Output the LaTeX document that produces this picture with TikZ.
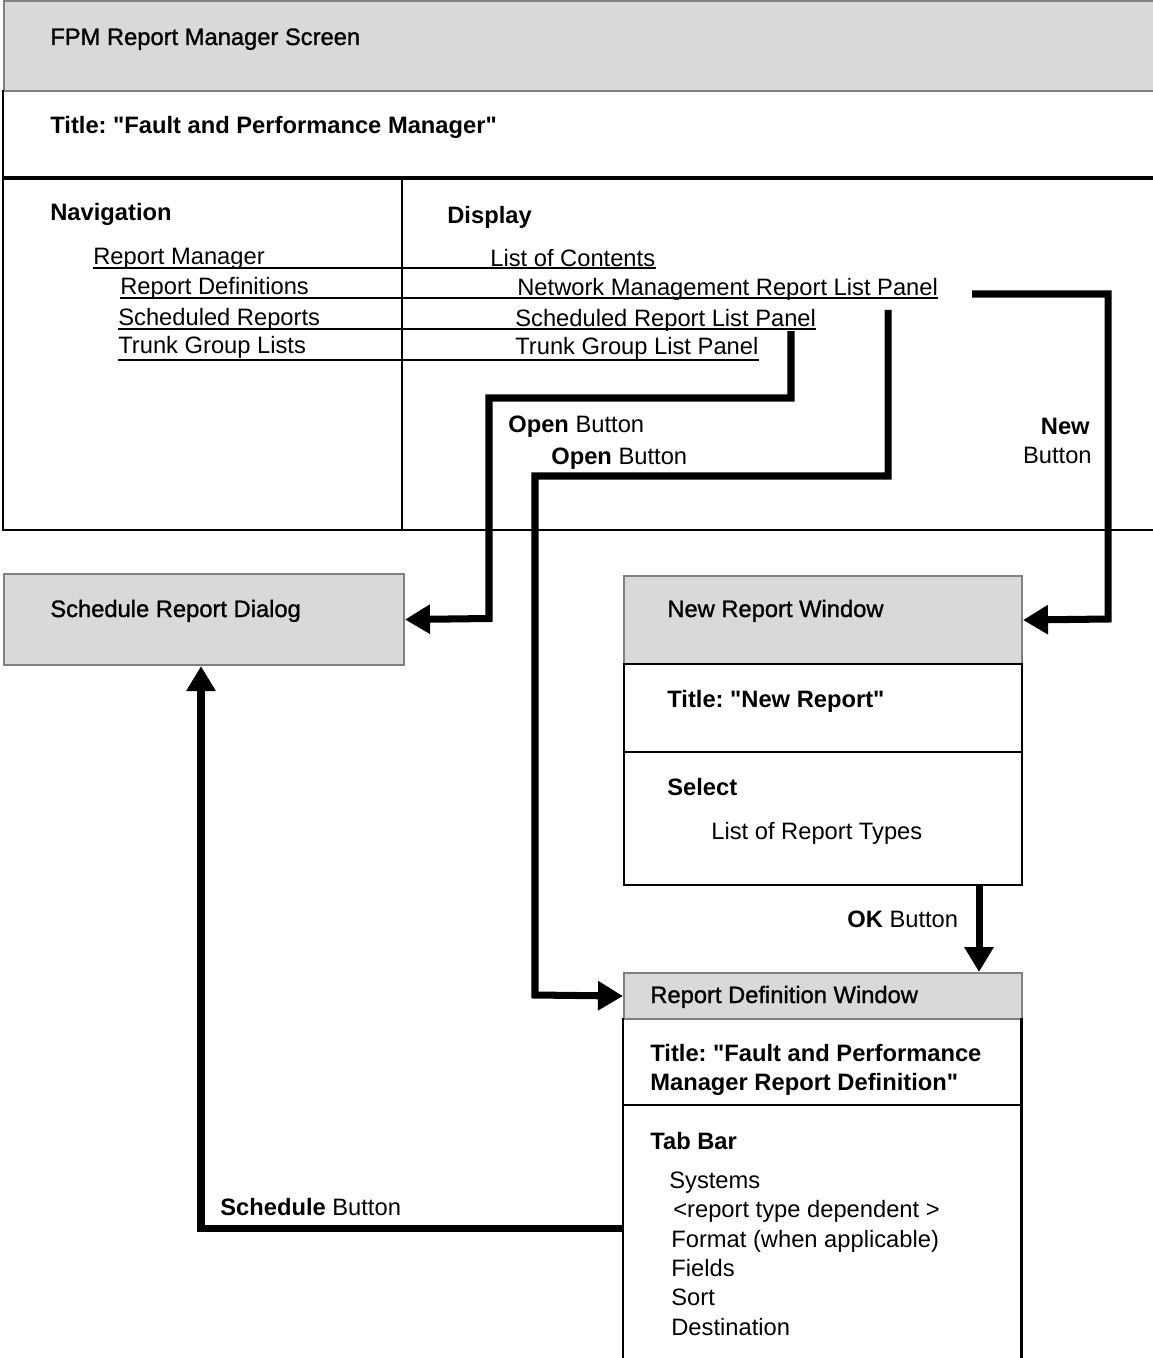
\documentclass[tikz,border=0pt]{standalone}
\usepackage{fontspec}
\setmainfont{Liberation Sans}[Ligatures=TeXOff]
\newfontfamily\medfont[FakeBold=1.2,Ligatures=TeXOff]{Liberation Sans}
\usetikzlibrary{arrows.meta}
\definecolor{hdrgray}{RGB}{217,217,217}
\definecolor{edgegray}{RGB}{128,128,128}
\frenchspacing

\begin{document}
\begin{tikzpicture}[x=0.02cm,y=-0.02cm,
  txt/.style={anchor=base west, inner sep=0pt, font=\fontsize{13.5}{16}\selectfont},
  btxt/.style={txt, font=\fontsize{13.5}{16}\selectfont\bfseries},
  htxt/.style={txt, font=\fontsize{13.5}{16}\selectfont\medfont},
  hdr/.style={fill=hdrgray, draw=edgegray, line width=1.2pt, anchor=north west, inner sep=0pt},
  body/.style={draw=black, line width=1.4pt, anchor=north west, inner sep=0pt},
  frame/.style={draw=black, line width=1.4pt},
  uline/.style={line width=1.1pt},
  conn/.style={line width=4pt, line join=miter, -{Triangle[length=0.5cm,width=0.56cm]}}
]
\useasboundingbox (0,0) rectangle (1152,1358);

% ---------------- FPM Report Manager Screen ----------------
\node[hdr, minimum width=23.1cm, minimum height=1.8cm] (screen) at (3,0) {};
\draw[frame] (3,90) -- (3,530) -- (1160,530);
\draw[draw=black, line width=2pt] (3,178) -- (1160,178);
\draw[frame] (402,178) -- (402,530);

\node[htxt] (fpm) at (50,45) {FPM Report Manager Screen};
\node[btxt] (ttl) at (50,134) {Title: "Fault and Performance Manager"};
\node[btxt] (nav) at (50,221) {Navigation};
\node[btxt] (disp) at (447,224) {Display};

\node[txt] (rm)  at (93,265)  {Report Manager};
\node[txt] (rd)  at (120,295) {Report Definitions};
\node[txt] (sr)  at (118,325) {Scheduled Reports};
\node[txt] (tg)  at (118,354) {Trunk Group Lists};

\node[txt] (lc)  at (490,267) {List of Contents};
\node[txt] (nm)  at (517,296) {Network Management Report List Panel};
\node[txt] (srp) at (515,326) {Scheduled Report List Panel};
\node[txt] (tgp) at (515,355) {Trunk Group List Panel};

% underlines linking each navigation entry to its display panel
\coordinate (ul1) at (0,268);
\coordinate (ul2) at (0,298);
\coordinate (ul3) at (0,329);
\coordinate (ul4) at (0,360);
\draw[uline] (rm.base west |- ul1) -- (lc.base east |- ul1);
\draw[uline] (rd.base west |- ul2) -- (nm.base east |- ul2);
\draw[uline] (sr.base west |- ul3) -- (srp.base east |- ul3);
\draw[uline] (tg.base west |- ul4) -- (tgp.base east |- ul4);

% ---------------- Schedule Report Dialog ----------------
\node[hdr, minimum width=8cm, minimum height=1.82cm] (sched) at (3,573) {};
\node[htxt] (schedlbl) at (50,617) {Schedule Report Dialog};

% ---------------- New Report Window ----------------
\node[hdr, minimum width=7.96cm, minimum height=1.76cm] (nrw) at (623,575) {};
\node[body, minimum width=7.96cm, minimum height=4.42cm] (nrwbody) at (623,663) {};
\draw[frame] (623,752) -- (1021,752);
\node[htxt] (nrwlbl) at (667,617) {New Report Window};
\node[btxt] (nrwttl) at (667,707) {Title: "New Report"};
\node[btxt] (nrwsel) at (667,795) {Select};
\node[txt]  (nrwlist) at (711,839) {List of Report Types};

% ---------------- Report Definition Window ----------------
\node[hdr, minimum width=7.96cm, minimum height=0.92cm] (rdw) at (623,972) {};
\node[anchor=north west, inner sep=0pt, minimum width=7.96cm, minimum height=7cm] (rdwbody) at (623,1018) {};
\draw[frame] (rdwbody.north west) -- (rdwbody.south west);
\draw[frame] (rdwbody.north east) -- (rdwbody.south east);
\draw[frame] (623,1105) -- (1021,1105);
\node[htxt] (rdwlbl) at (650,1003) {Report Definition Window};
\node[btxt] (rdwt1) at (650,1061) {Title: "Fault and Performance};
\node[btxt] (rdwt2) at (650,1090) {Manager Report Definition"};
\node[btxt] (tabbar) at (650,1149) {Tab Bar};
\node[txt] (tab1) at (669,1188) {Systems};
\node[txt] (tab2) at (673,1217) {<report type dependent >};
\node[txt] (tab3) at (671,1247) {Format (when applicable)};
\node[txt] (tab4) at (671,1276) {Fields};
\node[txt] (tab5) at (671,1305) {Sort};
\node[txt] (tab6) at (671,1335) {Destination};

% ---------------- connector labels ----------------
\node[txt] (open1) at (508,432) {\textbf{Open} Button};
\node[txt] (open2) at (551,464) {\textbf{Open} Button};
\node[btxt, anchor=base east] (new1) at (1090,434) {New};
\node[txt, anchor=base east] (new2) at (1092,463) {Button};
\node[txt] (okbtn) at (847,927) {\textbf{OK} Button};
\node[txt] (schedbtn) at (220,1215) {\textbf{Schedule} Button};

% ---------------- connectors ----------------
\coordinate (srpdrop) at (791,331);
\coordinate (nmdrop)  at (888,310);
\coordinate (nmnew)   at (972,294);
\coordinate (okcol)   at (979,0);
\coordinate (schedcol) at (201,0);
\coordinate (schedrow) at (0,1228);

\draw[conn] (srpdrop) -- (791,398) -- (489,398) -- (489,618.5) -- (sched.east);
\draw[conn] (nmdrop) -- (888,476) -- (535,476) -- (535,995) -- (rdw.west);
\draw[conn] (nmnew) -- (1108,294) -- (1108,619) -- (nrw.east);
\draw[conn] (nrwbody.south -| okcol) -- (rdw.north -| okcol);
\draw[conn] (rdwbody.west |- schedrow) -- (schedcol |- schedrow) -- (sched.south -| schedcol);

\end{tikzpicture}
\end{document}
